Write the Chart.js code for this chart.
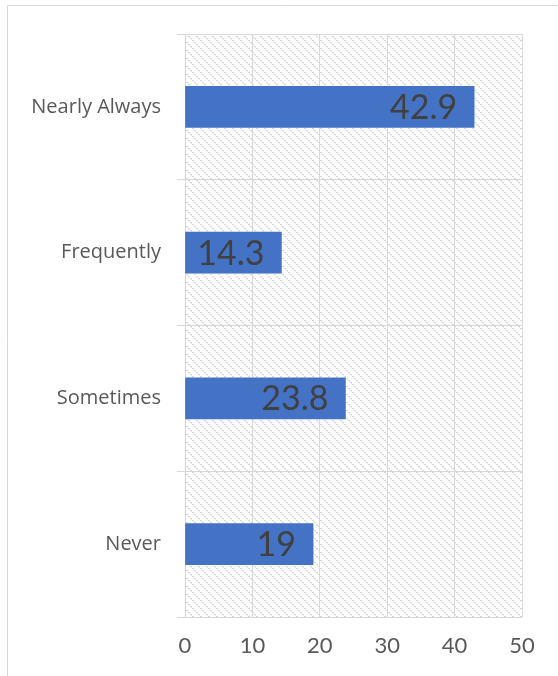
<!DOCTYPE html>
<html>
<head>
<meta charset="utf-8">
<script src="https://cdn.jsdelivr.net/npm/chart.js@4/dist/chart.umd.min.js"></script>
<style>
html,body{margin:0;padding:0;background:#fff;}
#wrap{position:relative;width:558px;height:676px;}
</style>
</head>
<body>
<div id="wrap"><canvas id="c" width="558" height="676"></canvas></div>
<script>
const categories = ["Nearly Always", "Frequently", "Sometimes", "Never"];
const values = [42.9, 14.3, 23.8, 19];
const xTicks = [0, 10, 20, 30, 40, 50];

function makePattern() {
  const t = document.createElement('canvas');
  t.width = 8; t.height = 8;
  const g = t.getContext('2d');
  g.fillStyle = '#ffffff';
  g.fillRect(0, 0, 8, 8);
  g.fillStyle = '#d6d6d6';
  for (let i = 0; i < 8; i += 2) {
    g.fillRect(i, i, 2, 1);
  }
  g.fillStyle = '#e6e6e6';
  for (let i = 1; i < 8; i += 2) {
    g.fillRect(i, i, 1, 1);
  }
  return g.createPattern(t, 'repeat');
}

const bgPlugin = {
  id: 'bg',
  beforeDraw(chart) {
    const ctx = chart.ctx;
    const a = chart.chartArea;
    ctx.save();
    ctx.fillStyle = '#ffffff';
    ctx.fillRect(0, 0, chart.width, chart.height);
    ctx.strokeStyle = '#d9d9d9';
    ctx.lineWidth = 1;
    ctx.beginPath();
    ctx.moveTo(7.5, chart.height);
    ctx.lineTo(7.5, 5.5);
    ctx.lineTo(chart.width, 5.5);
    ctx.stroke();
    ctx.fillStyle = makePattern();
    ctx.fillRect(a.left, a.top, a.right - a.left, a.bottom - a.top);
    ctx.restore();
  }
};

const labelPlugin = {
  id: 'valLabels',
  afterDatasetsDraw(chart) {
    const ctx = chart.ctx;
    const meta = chart.getDatasetMeta(0);
    ctx.save();
    ctx.font = '34px Lato';
    ctx.fillStyle = '#404040';
    ctx.textAlign = 'right';
    ctx.textBaseline = 'middle';
    meta.data.forEach((bar, i) => {
      ctx.fillText(String(values[i]), bar.x - 17, bar.y + 1);
    });
    ctx.restore();
  }
};

new Chart(document.getElementById('c'), {
  type: 'bar',
  data: {
    labels: categories,
    datasets: [{
      data: values,
      backgroundColor: '#4472C4',
      borderWidth: 0,
      barThickness: 41
    }]
  },
  options: {
    indexAxis: 'y',
    responsive: false,
    animation: false,
    layout: { padding: { top: 34, right: 36, left: 0, bottom: 0 } },
    plugins: { legend: { display: false }, tooltip: { enabled: false } },
    scales: {
      x: {
        min: 0, max: 50,
        afterBuildTicks(scale) { scale.ticks = xTicks.map(v => ({ value: v })); },
        afterFit(scale) { scale.height = 59; },
        grid: { color: '#d9d9d9', lineWidth: 1, drawTicks: false },
        border: { display: false },
        ticks: { color: '#595959', font: { family: 'Lato', size: 22 }, padding: 16 }
      },
      y: {
        offset: true,
        afterFit(scale) { scale.width = 185; },
        grid: { offset: true, color: '#d9d9d9', lineWidth: 1, drawTicks: true, tickLength: 8 },
        border: { display: false },
        ticks: { color: '#595959', font: { family: 'Open Sans', size: 20 }, padding: 16 }
      }
    }
  },
  plugins: [bgPlugin, labelPlugin]
});
</script>
</body>
</html>
